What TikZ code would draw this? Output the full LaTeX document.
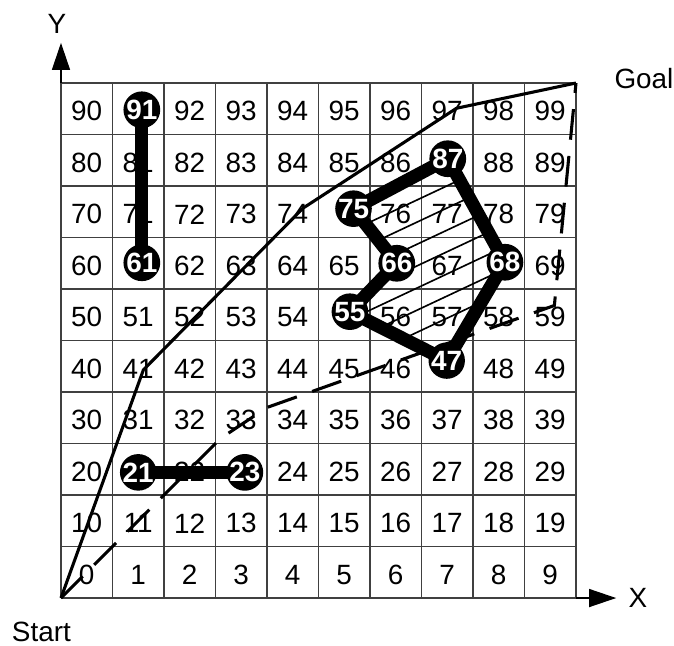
\documentclass[tikz,border=0pt]{standalone}
\usepackage{fontspec}
\setmainfont{Liberation Sans}
\usetikzlibrary{arrows.meta}
\begin{document}
\begin{tikzpicture}[x=1cm,y=1cm,
  font=\fontsize{15.4}{18}\selectfont,
  obst/.style={circle,fill=black,inner sep=0pt,minimum size=0.64cm,text=white,font=\fontsize{15.4}{18}\selectfont\bfseries},
  wall/.style={line width=7.3pt,line join=round},
  route/.style={line width=1.7pt},
  axis/.style={line width=0.7pt,-{Triangle[length=15pt,width=10pt]}}]
\useasboundingbox (-1.184,-0.913) rectangle (11.903,11.612);
% cells
\draw[line width=0.6pt,black!75] (0,0) grid (10,10);
\foreach \k in {21,23,47,55,61,66,68,75,87,91} {\expandafter\gdef\csname obs\k\endcsname{}}
\foreach \n in {0,...,99} {
  \pgfmathtruncatemacro\c{mod(\n,10)}
  \pgfmathtruncatemacro\r{(\n-\c)/10}
  \ifcsname obs\n\endcsname\else
    \node (n\n) at (\c+0.5,\r+0.45) {\n};
  \fi
}
% axes
\coordinate (start) at (0,0);
\coordinate (goal) at (10,10);
\coordinate (ytop) at (0,10);
\coordinate (ytip) at (0,10.78);
\coordinate (xend) at (10,0);
\coordinate (xtip) at (10.78,0);
\draw[axis] (ytop) -- (ytip);
\draw[axis] (xend) -- (xtip);
\node (ylab) at (-0.08,11.15) {Y};
\node (xlab) at (11.2,0) {X};
\node[inner sep=0pt] (startlab) at (-0.38,-0.66) {Start};
\node (goallab) at (11.32,10.08) {Goal};
% obstacles
\coordinate (p91) at (1.57,9.48);
\coordinate (p61) at (1.57,6.51);
\coordinate (p21) at (1.5,2.44);
\coordinate (p23) at (3.57,2.44);
\coordinate (p75) at (5.68,7.56);
\coordinate (p87) at (7.51,8.53);
\coordinate (p68) at (8.62,6.52);
\coordinate (p47) at (7.49,4.61);
\coordinate (p55) at (5.61,5.56);
\coordinate (p66) at (6.52,6.5);
\begin{scope}
  \clip (p75) -- (p87) -- (p68) -- (p47) -- (p55) -- (p66) -- cycle;
  \foreach \b in {1.91,2.34,2.77,3.20,3.62,4.05,4.48}
    \draw[line width=0.9pt] (5,{2.35+\b}) -- (9,{4.23+\b});
\end{scope}
\draw[wall] (p91) -- (p61);
\draw[wall] (p21) -- (p23);
\draw[wall] (p75) -- (p87) -- (p68) -- (p47) -- (p55) -- (p66) -- cycle;
\foreach \k in {91,61,21,23,75,87,68,47,55,66}
  \node[obst] (o\k) at (p\k) {\k};
% paths
\coordinate (s1) at (1.6,4.43);
\coordinate (s2) at (4.7,7.57);
\coordinate (s3) at (7.68,9.51);
\draw[route] (start) -- (s1) -- (s2) -- (s3) -- (goal);
\coordinate (d1) at (3.1,3.1);
\coordinate (d2) at (4,3.7);
\coordinate (d3) at (9.58,5.68);
\draw[route,dash pattern=on 17pt off 9pt] (start) -- (d1) -- (d2) -- (d3) -- (goal);
\end{tikzpicture}
\end{document}
